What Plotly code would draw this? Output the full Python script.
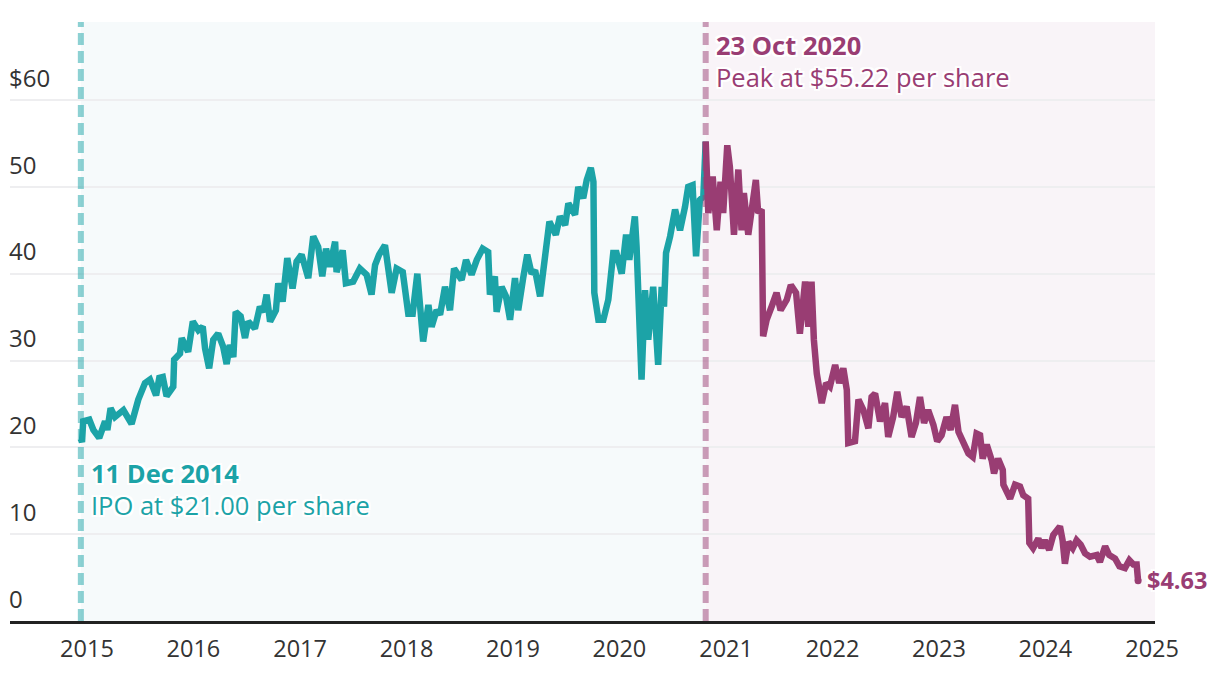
import plotly.graph_objects as go

# ---------------- data ----------------
ipo_dates = ["2014-12-11", "2014-12-15", "2014-12-19", "2015-01-09", "2015-01-23", "2015-02-12",
             "2015-03-04", "2015-03-12", "2015-03-23", "2015-04-07", "2015-05-06", "2015-06-03",
             "2015-06-26", "2015-07-19", "2015-08-05", "2015-08-26", "2015-09-06", "2015-09-18",
             "2015-10-01", "2015-10-24", "2015-10-27", "2015-11-16", "2015-11-22", "2015-12-14",
             "2015-12-30", "2016-01-18", "2016-02-02", "2016-02-10", "2016-02-24", "2016-03-09",
             "2016-03-26", "2016-04-12", "2016-04-24", "2016-05-05", "2016-05-17", "2016-05-25",
             "2016-06-11", "2016-06-26", "2016-07-07", "2016-07-30", "2016-08-16", "2016-08-28",
             "2016-09-08", "2016-09-20", "2016-10-10", "2016-10-18", "2016-11-02", "2016-11-18",
             "2016-12-06", "2016-12-20", "2017-01-06", "2017-01-29", "2017-02-15", "2017-03-04",
             "2017-03-18", "2017-03-31", "2017-04-13", "2017-05-01", "2017-05-06", "2017-05-27",
             "2017-06-07", "2017-07-02", "2017-07-25", "2017-08-17", "2017-09-03", "2017-09-15",
             "2017-09-29", "2017-10-19", "2017-11-11", "2017-11-28", "2017-12-19", "2018-01-07",
             "2018-01-22", "2018-02-07", "2018-02-27", "2018-03-17", "2018-03-28", "2018-04-14",
             "2018-04-26", "2018-05-13", "2018-05-30", "2018-06-13", "2018-07-09", "2018-07-24",
             "2018-08-12", "2018-08-30", "2018-09-19", "2018-10-08", "2018-10-14", "2018-10-31",
             "2018-11-06", "2018-11-23", "2018-12-08", "2018-12-22", "2019-01-08", "2019-01-19",
             "2019-02-05", "2019-02-19", "2019-03-06", "2019-03-18", "2019-04-04", "2019-04-21",
             "2019-05-06", "2019-05-28", "2019-06-11", "2019-06-29", "2019-07-10", "2019-08-02",
             "2019-08-13", "2019-08-30", "2019-09-11", "2019-09-25", "2019-10-04", "2019-10-07",
             "2019-10-21", "2019-11-07", "2019-11-24", "2019-12-11", "2019-12-22", "2020-01-09",
             "2020-01-24", "2020-02-04", "2020-02-23", "2020-02-29", "2020-03-09", "2020-03-17",
             "2020-03-29", "2020-04-09", "2020-04-26", "2020-05-13", "2020-05-25", "2020-06-02",
             "2020-06-09", "2020-06-23", "2020-07-10", "2020-07-27", "2020-08-13", "2020-08-24",
             "2020-09-08", "2020-09-20", "2020-10-03", "2020-10-15", "2020-10-23"]
ipo_prices = [21.0, 20.6, 23.0, 23.2, 22.0, 21.1,
              23.0, 22.0, 24.5, 23.5, 24.3, 22.7,
              25.5, 27.4, 27.8, 26.0, 28.0, 28.1,
              25.9, 27.0, 30.1, 30.8, 32.6, 31.0,
              34.5, 33.5, 33.9, 31.4, 29.1, 32.4,
              33.1, 31.6, 29.6, 31.8, 30.4, 35.6,
              35.1, 32.6, 34.5, 33.7, 36.2, 35.6,
              37.6, 34.5, 35.8, 38.9, 36.8, 41.8,
              38.3, 41.4, 42.2, 39.5, 44.3, 43.1,
              39.7, 42.9, 40.8, 43.7, 40.2, 42.7,
              38.9, 39.1, 40.6, 39.9, 37.6, 41.0,
              42.2, 43.3, 37.8, 40.6, 40.2, 35.4,
              35.4, 40.0, 32.2, 36.4, 33.9, 35.8,
              35.3, 38.5, 35.8, 40.6, 39.3, 41.6,
              39.9, 41.6, 42.9, 42.5, 37.6, 39.7,
              35.6, 38.5, 37.4, 34.7, 39.5, 35.8,
              39.5, 42.2, 40.0, 40.4, 37.4, 42.0,
              46.0, 44.5, 46.6, 45.6, 48.1, 46.8,
              50.0, 48.7, 50.8, 52.2, 50.6, 37.8,
              34.7, 34.7, 37.0, 42.4, 42.4, 40.0,
              44.5, 41.6, 46.6, 43.1, 32.8, 27.8,
              38.1, 32.4, 38.5, 29.5, 38.5, 36.2,
              42.4, 44.3, 47.4, 45.0, 47.7, 50.0,
              50.2, 42.0, 48.5, 48.9, 55.22]

post_dates = ["2020-10-23", "2020-11-01", "2020-11-16", "2020-11-30", "2020-12-13", "2020-12-22",
              "2021-01-05", "2021-01-14", "2021-01-28", "2021-02-12", "2021-02-23", "2021-03-03",
              "2021-03-18", "2021-03-30", "2021-04-13", "2021-04-21", "2021-05-03", "2021-05-08",
              "2021-05-20", "2021-06-06", "2021-06-23", "2021-07-07", "2021-07-28", "2021-08-11",
              "2021-08-29", "2021-09-11", "2021-09-29", "2021-10-10", "2021-10-21", "2021-10-29",
              "2021-11-08", "2021-11-25", "2021-12-10", "2021-12-23", "2022-01-10", "2022-01-24",
              "2022-02-07", "2022-02-19", "2022-02-24", "2022-03-19", "2022-03-31", "2022-04-17",
              "2022-05-04", "2022-05-15", "2022-05-27", "2022-06-13", "2022-06-30", "2022-07-11",
              "2022-07-28", "2022-08-11", "2022-08-26", "2022-09-12", "2022-09-29", "2022-10-14",
              "2022-10-28", "2022-11-11", "2022-11-25", "2022-12-13", "2022-12-26", "2023-01-10",
              "2023-01-27", "2023-02-10", "2023-02-25", "2023-03-09", "2023-03-26", "2023-04-12",
              "2023-04-27", "2023-05-10", "2023-05-22", "2023-05-31", "2023-06-14", "2023-07-01",
              "2023-07-09", "2023-07-23", "2023-08-08", "2023-08-10", "2023-09-02", "2023-09-19",
              "2023-10-06", "2023-10-17", "2023-11-03", "2023-11-07", "2023-11-20", "2023-12-08",
              "2023-12-19", "2023-12-30", "2024-01-14", "2024-01-28", "2024-02-20", "2024-02-29",
              "2024-03-08", "2024-03-20", "2024-04-04", "2024-04-17", "2024-05-01", "2024-05-16",
              "2024-06-02", "2024-06-25", "2024-07-06", "2024-07-24", "2024-08-07", "2024-08-27",
              "2024-09-11", "2024-09-30", "2024-10-15", "2024-10-29", "2024-11-09", "2024-11-14"]
post_prices = [55.22, 47.0, 51.2, 45.0, 50.6, 47.0,
               54.8, 52.3, 44.5, 52.0, 45.0, 49.3,
               44.5, 47.4, 50.8, 47.0, 47.4, 32.8,
               34.7, 36.2, 37.8, 35.8, 37.0, 38.7,
               37.8, 33.1, 39.1, 33.9, 39.1, 32.4,
               28.5, 25.1, 27.4, 27.0, 29.5, 27.4,
               29.1, 26.6, 20.5, 20.7, 25.5, 24.3,
               22.2, 25.8, 26.2, 23.0, 25.1, 21.2,
               23.5, 26.4, 23.5, 24.7, 21.2, 22.8,
               25.8, 22.8, 24.3, 22.6, 20.7, 21.4,
               23.5, 22.0, 24.9, 21.8, 20.3, 19.3,
               18.9, 21.6, 21.4, 18.7, 20.3, 18.5,
               17.0, 18.7, 17.4, 15.7, 14.1, 15.7,
               15.5, 14.5, 14.1, 9.0, 8.4, 9.5,
               8.4, 9.3, 8.2, 9.9, 10.9, 9.3,
               6.6, 9.1, 8.4, 9.3, 8.8, 7.8,
               7.4, 7.6, 6.8, 8.6, 7.6, 7.2,
               6.3, 6.1, 7.0, 6.5, 6.5, 4.63]

ipo_date, ipo_price = "2014-12-11", 21.00
peak_date, peak_price = "2020-10-23", 55.22
last_price = 4.63

y_tickvals = [0, 10, 20, 30, 40, 50, 60]
y_ticktext = ["0", "10", "20", "30", "40", "50", "$60"]
x_tickvals = ["2015-01-01", "2016-01-01", "2017-01-01", "2018-01-01", "2019-01-01", "2020-01-01",
              "2021-01-01", "2022-01-01", "2023-01-01", "2024-01-01", "2025-01-01"]
x_ticktext = ["2015", "2016", "2017", "2018", "2019", "2020", "2021", "2022", "2023", "2024", "2025"]

# ---------------- style ----------------
TEAL = "#1ca3a7"
PURPLE = "#993d73"
FONT = "Open Sans"
X_RANGE = ["2014-04-12", "2025-01-11"]
Y_RANGE = [0, 69]
SHADOW = ("2px 0 0 white, -2px 0 0 white, 0 2px 0 white, 0 -2px 0 white, "
          "2px 2px 0 white, -2px -2px 0 white, 2px -2px 0 white, -2px 2px 0 white")

fig = go.Figure()
fig.add_trace(go.Scatter(x=ipo_dates, y=ipo_prices, mode="lines",
                         line=dict(color=TEAL, width=6.5), hoverinfo="skip"))
fig.add_trace(go.Scatter(x=post_dates, y=post_prices, mode="lines",
                         line=dict(color=PURPLE, width=6.5), hoverinfo="skip"))
fig.add_trace(go.Scatter(x=[post_dates[-1]], y=[post_prices[-1]], mode="markers",
                         marker=dict(color=PURPLE, size=7), hoverinfo="skip"))

shapes = [
    dict(type="rect", xref="x", yref="paper", x0=ipo_date, x1=peak_date, y0=0, y1=1,
         fillcolor="#f6fafb", line_width=0, layer="below"),
    dict(type="rect", xref="x", yref="paper", x0=peak_date, x1=X_RANGE[1], y0=0, y1=1,
         fillcolor="#f9f4f8", line_width=0, layer="below"),
    dict(type="line", xref="x", yref="paper", x0=ipo_date, x1=ipo_date, y0=0, y1=1,
         line=dict(color="rgba(28,163,167,0.5)", width=6, dash="12px,6px"), layer="above"),
    dict(type="line", xref="x", yref="paper", x0=peak_date, x1=peak_date, y0=0, y1=1,
         line=dict(color="rgba(153,61,115,0.5)", width=6, dash="12px,6px"), layer="above"),
]


def label(x, y, text, color, bold=False):
    return dict(x=x, y=y, xref="x", yref="y", xanchor="left", yanchor="middle", align="left",
                xshift=8, showarrow=False, text=f"<b>{text}</b>" if bold else text,
                font=dict(family=FONT, size=25.5, color=color, shadow=SHADOW))


annotations = [
    label(ipo_date, 17.0, "11 Dec 2014", TEAL, bold=True),
    label(ipo_date, 13.4, f"IPO at ${ipo_price:.2f} per share", TEAL),
    label(peak_date, 66.3, "23 Oct 2020", PURPLE, bold=True),
    label(peak_date, 62.7, f"Peak at ${peak_price:.2f} per share", PURPLE),
    dict(x=post_dates[-1], y=last_price, xref="x", yref="y", xanchor="left", yanchor="middle",
         xshift=7, yshift=1, showarrow=False, text=f"<b>${last_price:.2f}</b>",
         font=dict(family=FONT, size=23.5, color=PURPLE, shadow=SHADOW)),
]

fig.update_layout(
    width=1220, height=678,
    margin=dict(l=2, r=73, t=14, b=65),
    paper_bgcolor="white", plot_bgcolor="white",
    showlegend=False,
    font=dict(family=FONT, size=24, color="#333333"),
    shapes=shapes, annotations=annotations,
    xaxis=dict(type="date", range=X_RANGE, tickvals=x_tickvals, ticktext=x_ticktext,
               showgrid=False, zeroline=False, showline=True, linecolor="#222222", linewidth=2.5,
               ticks="", ticklabelstandoff=5,
               tickfont=dict(size=23.5, color="#333333"), fixedrange=True),
    yaxis=dict(range=Y_RANGE, tickvals=y_tickvals, ticktext=y_ticktext,
               showgrid=True, gridcolor="#eeeef0", gridwidth=2, zeroline=False, showline=False,
               ticks="", ticklabelposition="inside top", ticklabelstandoff=-4, ticklabelshift=-5,
               tickfont=dict(size=24, color="#333333"), fixedrange=True),
)

fig.write_html("out.html")
